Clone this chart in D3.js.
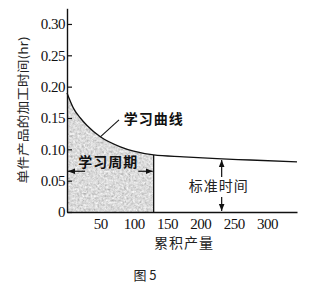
<!DOCTYPE html>
<html>
<head>
<meta charset="utf-8">
<title>学习曲线</title>
<style>
  body { margin: 0; background: #fff; }
  svg { display: block; }
</style>
</head>
<body>
<script src="https://d3js.org/d3.v7.min.js"></script>
<script>
// 累积产量 / 单件加工时间
var output = [0, 10, 20, 30, 50, 80, 100, 130, 175, 225, 275, 345];
var unitTime = [0.19, 0.165, 0.150, 0.138, 0.120, 0.104, 0.097, 0.091, 0.088, 0.085, 0.083, 0.080];
var xTicks = [50, 100, 150, 200, 250, 300];
var yTicks = [0, 0.05, 0.10, 0.15, 0.20, 0.25, 0.30];
var learnEnd = 130;     // 学习周期结束
var stdX = 232;         // 标准时间箭头位置

var width = 326, height = 288;
var svg = d3.select('body').append('svg')
    .attr('width', width)
    .attr('height', height)
    .style('font-family', '"Noto Sans CJK SC", sans-serif');

var x = d3.scaleLinear().domain([0, 345]).range([67, 297]);
var y = d3.scaleLinear().domain([0, 0.325]).range([212, 8.3]);

var pts = output.map(function(d, i){ return [d, unitTime[i]]; });

// 灰色颗粒纹理
var defs = svg.append('defs');
var f = defs.append('filter').attr('id', 'grain')
    .attr('x', 0).attr('y', 0).attr('width', '100%').attr('height', '100%');
f.append('feTurbulence').attr('type', 'fractalNoise')
    .attr('baseFrequency', 0.45).attr('numOctaves', 3).attr('seed', 4).attr('result', 'n');
f.append('feColorMatrix').attr('in', 'n').attr('type', 'matrix')
    .attr('values', '0.33 0.33 0.33 0 0  0.33 0.33 0.33 0 0  0.33 0.33 0.33 0 0  0 0 0 0 1')
    .attr('result', 'g');
var ct = f.append('feComponentTransfer').attr('in', 'g').attr('result', 'c');
['R', 'G', 'B'].forEach(function(ch){
    ct.append('feFunc' + ch).attr('type', 'linear').attr('slope', 1.1).attr('intercept', 0.16);
});
f.append('feComposite').attr('in', 'c').attr('in2', 'SourceGraphic').attr('operator', 'in');

defs.append('marker').attr('id', 'arr')
    .attr('viewBox', '0 0 10 10').attr('refX', 10).attr('refY', 5)
    .attr('markerWidth', 7).attr('markerHeight', 7).attr('orient', 'auto')
    .attr('markerUnits', 'userSpaceOnUse')
    .append('path').attr('d', 'M0,1 L10,5 L0,9 Z').attr('fill', '#111');

var curve = d3.curveMonotoneX;

// 阴影区（学习周期）
var shadePts = pts.filter(function(p){ return p[0] <= learnEnd; });
svg.append('path')
    .datum(shadePts)
    .attr('d', d3.area().curve(curve)
        .x(function(d){ return x(d[0]); })
        .y0(y(0))
        .y1(function(d){ return y(d[1]); }))
    .attr('fill', '#aaa')
    .attr('filter', 'url(#grain)');

svg.append('line')
    .attr('x1', x(learnEnd)).attr('x2', x(learnEnd))
    .attr('y1', y(0)).attr('y2', y(unitTime[output.indexOf(learnEnd)]))
    .attr('stroke', '#111').attr('stroke-width', 1.3);

// 学习曲线
svg.append('path')
    .datum(pts)
    .attr('d', d3.line().curve(curve)
        .x(function(d){ return x(d[0]); })
        .y(function(d){ return y(d[1]); }))
    .attr('fill', 'none')
    .attr('stroke', '#111')
    .attr('stroke-width', 1.3);

// 坐标轴
var yAxis = d3.axisLeft(y).tickValues(yTicks).tickSize(-5).tickSizeOuter(0).tickPadding(2)
    .tickFormat(function(d){ return d === 0 ? '0' : d3.format('.2f')(d); });
var gy = svg.append('g').attr('transform', 'translate(' + x(0) + ',0)').call(yAxis);

var xAxis = d3.axisBottom(x).tickValues(xTicks).tickSize(0).tickSizeOuter(0).tickPadding(6);
var gx = svg.append('g').attr('transform', 'translate(0,' + y(0) + ')').call(xAxis);

[gx, gy].forEach(function(g){
    g.select('.domain').attr('stroke', '#111').attr('stroke-width', 1.4);
    g.selectAll('.tick line').attr('stroke', '#111').attr('stroke-width', 1.2);
    g.selectAll('.tick text')
        .attr('fill', '#111')
        .style('font-family', '"Liberation Serif", serif')
        .style('font-size', '15px')
        .style('letter-spacing', '-0.5px');
});

// 轴标题
svg.append('text')
    .attr('transform', 'translate(28,110) rotate(-90) scale(1.15,1)')
    .attr('text-anchor', 'middle')
    .style('font-size', '12px')
    .attr('fill', '#222')
    .text('单件产品的加工时间(hr)');

svg.append('text')
    .attr('x', 184).attr('y', 248)
    .attr('text-anchor', 'middle')
    .style('font-size', '14px')
    .style('letter-spacing', '1px')
    .attr('fill', '#222')
    .text('累积产量');

svg.append('text')
    .attr('x', 145).attr('y', 280)
    .attr('text-anchor', 'middle')
    .style('font-size', '13px')
    .attr('fill', '#222')
    .text('图 5');

// 学习曲线 标注
svg.append('line')
    .attr('x1', x(50)).attr('y1', y(0.120))
    .attr('x2', x(78)).attr('y2', y(0.147))
    .attr('stroke', '#111').attr('stroke-width', 1.1);
svg.append('text')
    .attr('x', x(85)).attr('y', y(0.14))
    .style('font-size', '14px').style('font-weight', 'bold')
    .style('letter-spacing', '1px')
    .attr('fill', '#111')
    .text('学习曲线');

// 学习周期 标注
svg.append('text')
    .attr('x', x(62)).attr('y', y(0.072))
    .attr('text-anchor', 'middle')
    .style('font-size', '14px').style('font-weight', 'bold')
    .style('letter-spacing', '1px')
    .attr('fill', '#111')
    .text('学习周期');
svg.append('line')
    .attr('x1', x(27)).attr('y1', y(0.065)).attr('x2', x(0) + 1).attr('y2', y(0.065))
    .attr('stroke', '#111').attr('stroke-width', 1.2).attr('marker-end', 'url(#arr)');
svg.append('line')
    .attr('x1', x(107)).attr('y1', y(0.065)).attr('x2', x(learnEnd) - 1).attr('y2', y(0.065))
    .attr('stroke', '#111').attr('stroke-width', 1.2).attr('marker-end', 'url(#arr)');

// 标准时间 标注
var stdY = d3.scaleLinear().domain(output).range(unitTime)(stdX);
svg.append('text')
    .attr('x', x(stdX) - 3).attr('y', y(0.033))
    .attr('text-anchor', 'middle')
    .style('font-size', '14px')
    .style('letter-spacing', '1px')
    .attr('fill', '#222')
    .text('标准时间');
svg.append('line')
    .attr('x1', x(stdX)).attr('y1', y(0.056)).attr('x2', x(stdX)).attr('y2', y(stdY) + 1)
    .attr('stroke', '#111').attr('stroke-width', 1.2).attr('marker-end', 'url(#arr)');
svg.append('line')
    .attr('x1', x(stdX)).attr('y1', y(0.024)).attr('x2', x(stdX)).attr('y2', y(0) - 1)
    .attr('stroke', '#111').attr('stroke-width', 1.2).attr('marker-end', 'url(#arr)');
</script>
</body>
</html>
